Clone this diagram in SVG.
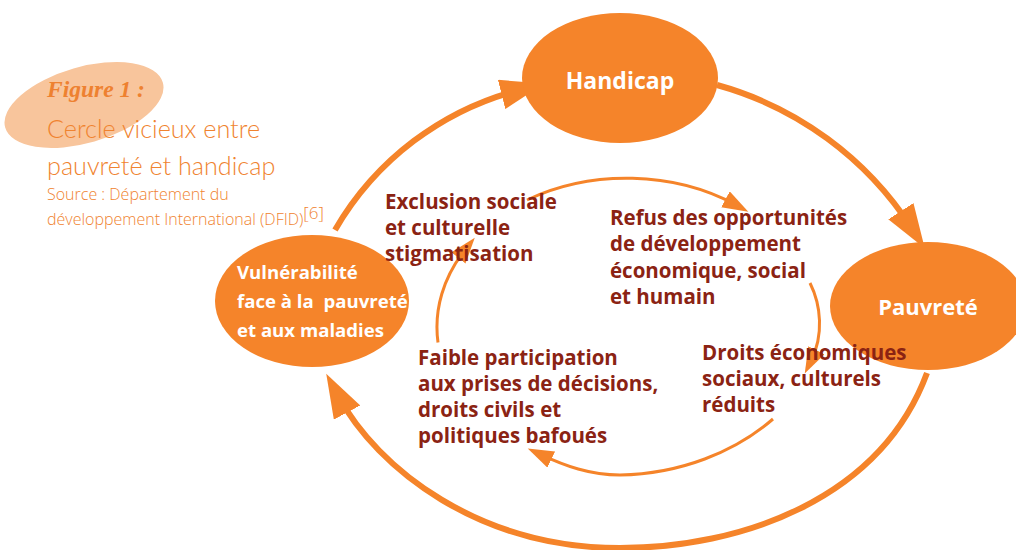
<svg xmlns="http://www.w3.org/2000/svg" width="1016" height="550" viewBox="0 0 1016 550">
  <defs>
    <style>
      .node { fill: #F5842A; }
      .ntext { font-family: "Open Sans", "Noto Sans", sans-serif; font-weight: bold; fill: #FFFFFF; }
      .label { font-family: "Open Sans", "Noto Sans", sans-serif; font-weight: bold; font-size: 20.5px; fill: #8B2313; }
      .outer { fill: none; stroke: #F5842A; stroke-width: 6; }
      .inner { fill: none; stroke: #F5842A; stroke-width: 3; }
      .title { font-family: "Open Sans", "Noto Sans", sans-serif; font-weight: 300; fill: #F0832F; }
      .titlebig { font-family: Lato, "Open Sans", sans-serif; font-weight: 300; fill: #F0832F; }
    </style>
    <marker id="bigArrow" markerUnits="userSpaceOnUse" markerWidth="46" markerHeight="32" refX="20" refY="15" orient="auto">
      <path d="M0,0 L44,15 L0,30 Z" fill="#F5842A"/>
    </marker>
    <marker id="smallArrow" markerUnits="userSpaceOnUse" markerWidth="28" markerHeight="20" refX="12" refY="9" orient="auto">
      <path d="M0,0 L26,9 L0,18 Z" fill="#F5842A"/>
    </marker>
  </defs>
  <rect width="1016" height="550" fill="#FFFFFF"/>

  <g id="title">
    <ellipse cx="84" cy="105" rx="82" ry="38" transform="rotate(-16 84 105)" fill="#F8C59C"/>
    <text x="47" y="97" font-family="Liberation Serif, serif" font-style="italic" font-weight="bold" font-size="23.5" fill="#EE8130">Figure 1 :</text>
    <text class="titlebig" x="47" y="138" font-size="25.2">Cercle vicieux entre</text>
    <text class="titlebig" x="47" y="175" font-size="25.2">pauvreté et handicap</text>
    <text class="title" x="47" y="200" font-size="16">Source : Département du</text>
    <text class="title" x="47" y="225" font-size="16">développement International (DFID)<tspan dy="-6" font-size="17">[6]</tspan></text>
  </g>

  <g id="connectors">
    <path class="outer" d="M335,230 A300,300 0 0 1 521,89.5" marker-end="url(#bigArrow)"/>
    <path class="outer" d="M717,85 A340,340 0 0 1 911.7,228" marker-end="url(#bigArrow)"/>
    <path class="outer" d="M927,373 C880,500 740,548 620,548 C480,548 378,470 337.6,394.9" marker-end="url(#bigArrow)"/>
    <path class="inner" d="M438,342.5 A191,148 0 0 1 466,248.6" marker-end="url(#smallArrow)"/>
    <path class="inner" d="M527,200 A191,148 0 0 1 736,205" marker-end="url(#smallArrow)"/>
    <path class="inner" d="M810,283 C821,305 824,335 811,361" marker-end="url(#smallArrow)"/>
    <path class="inner" d="M773,419 C735,452 680,474 620,475 C590,475 565,466 540.4,454.4" marker-end="url(#smallArrow)"/>
  </g>

  <g id="handicap">
    <ellipse class="node" cx="620" cy="78" rx="98" ry="65"/>
    <text class="ntext" x="620" y="89" font-size="23" text-anchor="middle">Handicap</text>
  </g>
  <g id="pauvrete">
    <ellipse class="node" cx="928" cy="306" rx="98" ry="64"/>
    <text class="ntext" x="928" y="315" font-size="22" text-anchor="middle">Pauvreté</text>
  </g>
  <g id="vulnerabilite">
    <ellipse class="node" cx="312" cy="301" rx="97" ry="66"/>
    <text class="ntext" font-size="18.6">
      <tspan x="237" y="279">Vulnérabilité</tspan>
      <tspan x="237" y="308">face à la&#160; pauvreté</tspan>
      <tspan x="237" y="337">et aux maladies</tspan>
    </text>
  </g>

  <g id="exclusion">
    <text class="label">
      <tspan x="385" y="209">Exclusion sociale</tspan>
      <tspan x="385" y="235">et culturelle</tspan>
      <tspan x="385" y="261">stigmatisation</tspan>
    </text>
  </g>
  <g id="refus">
    <text class="label">
      <tspan x="610" y="225">Refus des opportunités</tspan>
      <tspan x="610" y="251">de développement</tspan>
      <tspan x="610" y="278">économique, social</tspan>
      <tspan x="610" y="304">et humain</tspan>
    </text>
  </g>
  <g id="droits">
    <text class="label">
      <tspan x="702" y="360">Droits économiques</tspan>
      <tspan x="702" y="386">sociaux, culturels</tspan>
      <tspan x="702" y="412">réduits</tspan>
    </text>
  </g>
  <g id="faible">
    <text class="label">
      <tspan x="418" y="365">Faible participation</tspan>
      <tspan x="418" y="391">aux prises de décisions,</tspan>
      <tspan x="418" y="417">droits civils et</tspan>
      <tspan x="418" y="443">politiques bafoués</tspan>
    </text>
  </g>
</svg>
